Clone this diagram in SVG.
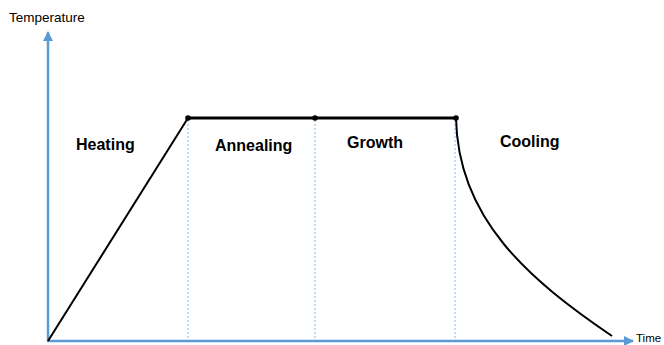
<svg xmlns="http://www.w3.org/2000/svg" width="664" height="345" viewBox="0 0 664 345">
<style>
.axis{stroke:#5B9BD5;stroke-width:2.5;fill:none}
.guide{stroke:#9DC3E6;stroke-width:1.2;stroke-dasharray:2,2;fill:none}
.curve{stroke:#000;stroke-width:2;fill:none}
.plateau{stroke:#000;stroke-width:3;fill:none}
.lbl{font-family:"Liberation Sans",Arial,sans-serif;font-weight:bold;font-size:16px;fill:#000}
.ax{font-family:"Liberation Sans",Arial,sans-serif;font-size:13.5px;fill:#000}
</style>
<defs>
<marker id="arr" viewBox="0 0 10 10" refX="9" refY="5" markerWidth="4" markerHeight="4" orient="auto" markerUnits="strokeWidth">
<path d="M0,0 L10,5 L0,10 z" fill="#5B9BD5"/>
</marker>
</defs>
<g id="guides">
<line class="guide" x1="188" y1="120" x2="188" y2="340"/>
<line class="guide" x1="315" y1="120" x2="315" y2="340"/>
<line class="guide" x1="455" y1="120" x2="455" y2="340"/>
</g>
<g id="connectors">
<line class="axis" x1="48" y1="341" x2="48" y2="32" marker-end="url(#arr)"/>
<line class="axis" x1="47" y1="341" x2="633" y2="341" marker-end="url(#arr)"/>
<line class="curve" x1="48" y1="341" x2="188" y2="118"/>
<line class="plateau" x1="188" y1="118" x2="456" y2="118"/>
<path class="curve" d="M456,118 C458,220 530,280 612,336"/>
</g>
<g id="points">
<circle cx="188" cy="118" r="2.8"/>
<circle cx="315" cy="118" r="2.8"/>
<circle cx="456" cy="118" r="2.8"/>
</g>
<g id="labels">
<text class="ax" x="9" y="22">Temperature</text>
<text class="ax" x="636" y="342" style="font-size:11.5px">Time</text>
<text class="lbl" x="76" y="150">Heating</text>
<text class="lbl" x="215" y="151">Annealing</text>
<text class="lbl" x="347" y="148">Growth</text>
<text class="lbl" x="500" y="147">Cooling</text>
</g>
</svg>
